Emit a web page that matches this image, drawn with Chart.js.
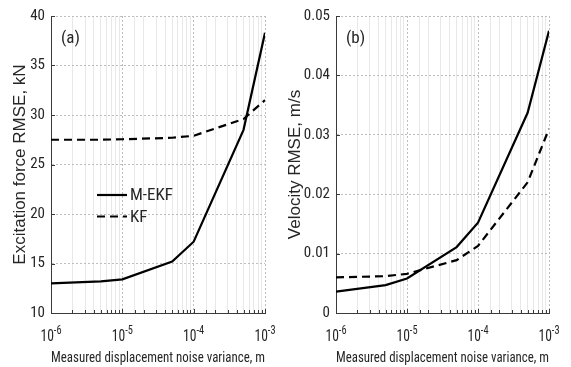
<!DOCTYPE html>
<html>
<head>
<meta charset="utf-8">
<script src="https://cdn.jsdelivr.net/npm/chart.js@4.4.0/dist/chart.umd.min.js"></script>
<style>
  html, body { margin: 0; padding: 0; background: #fff; }
  #wrap { position: relative; width: 571px; height: 367px; }
  canvas { position: absolute; top: 0; }
</style>
</head>
<body>
<div id="wrap">
  <canvas id="chartA" width="285" height="367" style="left:0"></canvas>
  <canvas id="chartB" width="286" height="367" style="left:285px"></canvas>
</div>
<script>
// measured displacement noise variance (x), m
const noiseVariance = [1e-6, 5e-6, 1e-5, 5e-5, 1e-4, 5e-4, 1e-3];
// (a) excitation force RMSE, kN
const forceEKF = [13.0, 13.2, 13.4, 15.2, 17.2, 28.5, 38.3];
const forceKF  = [27.5, 27.5, 27.55, 27.7, 27.9, 29.6, 31.5];
// (b) velocity RMSE, m/s
const velEKF = [0.0036, 0.0047, 0.0058, 0.0111, 0.0152, 0.0337, 0.0475];
const velKF  = [0.0060, 0.0062, 0.0066, 0.0089, 0.0113, 0.0220, 0.0310];

const seriesNames = ['M-EKF', 'KF'];
const xTickExponents = [-6, -5, -4, -3];
const xTitle = 'Measured displacement noise variance, m';

const NARROW = '"Roboto Condensed", "Liberation Sans", Arial, sans-serif';
const REGULAR = '"Liberation Sans", Arial, sans-serif';
const TXT = '#262626';

const isDecade = v => {
  const e = Math.log10(v);
  return Math.abs(e - Math.round(e)) < 1e-6;
};

// 10^n tick labels with real superscripts + small inward tick marks (matlab style)
const axisDecor = {
  id: 'axisDecor',
  afterDraw(chart) {
    const {ctx, chartArea, scales} = chart;
    ctx.save();
    // inward ticks
    ctx.strokeStyle = '#3a3a3a';
    ctx.lineWidth = 1;
    ctx.beginPath();
    scales.x.ticks.forEach(t => {
      const px = Math.round(scales.x.getPixelForValue(t.value)) + 0.5;
      ctx.moveTo(px, chartArea.bottom);
      ctx.lineTo(px, chartArea.bottom - (isDecade(t.value) ? 4 : 3));
    });
    scales.y.ticks.forEach(t => {
      const py = Math.round(scales.y.getPixelForValue(t.value)) + 0.5;
      ctx.moveTo(chartArea.left, py);
      ctx.lineTo(chartArea.left + 4, py);
    });
    ctx.stroke();

    // squeezed horizontally a bit, like the source figure
    const sx = 0.8;
    ctx.fillStyle = TXT;
    ctx.textBaseline = 'alphabetic';
    ctx.textAlign = 'left';
    xTickExponents.forEach(e => {
      const px = scales.x.getPixelForValue(Math.pow(10, e));
      ctx.font = '17px ' + NARROW;
      const wb = ctx.measureText('10').width;
      ctx.font = '13px ' + NARROW;
      const sup = String(e);
      const ws = ctx.measureText(sup).width;
      const y = chartArea.bottom + 28;
      ctx.save();
      ctx.translate(px, y);
      ctx.scale(sx, 1);
      const x0 = -(wb + ws) / 2;
      ctx.font = '17px ' + NARROW;
      ctx.fillText('10', x0, 0);
      ctx.font = '13px ' + NARROW;
      ctx.fillText(sup, x0 + wb, -7);
      ctx.restore();
    });
    ctx.restore();
  }
};

const panelLabel = {
  id: 'panelLabel',
  afterDraw(chart, args, opts) {
    const {ctx, chartArea} = chart;
    ctx.save();
    ctx.fillStyle = TXT;
    ctx.font = '17px ' + NARROW;
    ctx.textAlign = 'left';
    ctx.textBaseline = 'middle';
    ctx.fillText(opts.text, chartArea.left + 10, chartArea.top + 23);
    ctx.restore();
  }
};

const innerLegend = {
  id: 'innerLegend',
  afterDraw(chart, args, opts) {
    if (!opts.show) return;
    const {ctx, chartArea} = chart;
    ctx.save();
    chart.data.datasets.forEach((ds, i) => {
      const y = chartArea.top + opts.top + i * 21.5;
      const x = chartArea.left + opts.left;
      ctx.strokeStyle = ds.borderColor;
      ctx.lineWidth = ds.borderWidth;
      ctx.setLineDash(ds.borderDash || []);
      ctx.beginPath();
      ctx.moveTo(x, y);
      ctx.lineTo(x + 30, y);
      ctx.stroke();
      ctx.setLineDash([]);
      ctx.fillStyle = TXT;
      ctx.font = '17px ' + NARROW;
      ctx.textBaseline = 'middle';
      ctx.fillText(ds.label, x + 33, y + 1);
    });
    ctx.restore();
  }
};

function makeChart(id, ekf, kf, yMin, yMax, yStep, yTitle, label, rightPad, titlePad, legend) {
  return new Chart(document.getElementById(id), {
    type: 'line',
    data: {
      datasets: [
        {
          label: seriesNames[0],
          data: noiseVariance.map((v, i) => ({x: v, y: ekf[i]})),
          borderColor: '#000', borderWidth: 2.2, pointRadius: 0, tension: 0
        },
        {
          label: seriesNames[1],
          data: noiseVariance.map((v, i) => ({x: v, y: kf[i]})),
          borderColor: '#000', borderWidth: 2.2, borderDash: [8, 5], pointRadius: 0, tension: 0
        }
      ]
    },
    options: {
      responsive: false,
      animation: false,
      layout: {padding: {top: 16, right: rightPad, left: 0, bottom: 0}},
      plugins: {
        legend: {display: false},
        tooltip: {enabled: false},
        panelLabel: {text: label},
        innerLegend: legend
      },
      scales: {
        x: {
          type: 'logarithmic',
          min: 1e-6, max: 1e-3,
          afterFit: s => { s.height = 54; },
          ticks: {callback: () => '', autoSkip: false, maxRotation: 0},
          title: {
            display: true, text: xTitle, color: TXT, padding: {top: 0, bottom: 0},
            font: {family: NARROW, size: 15}
          },
          grid: {
            drawTicks: false,
            color: c => (c.tick && isDecade(c.tick.value)) ? '#bdbdbd' : '#e8e8e8',
            lineWidth: 1
          },
          border: {
            color: '#3a3a3a', width: 1,
            dash: c => (c.tick && isDecade(c.tick.value)) ? [2, 2] : []
          }
        },
        y: {
          min: yMin, max: yMax,
          afterFit: s => { s.width = 51; },
          ticks: {
            stepSize: yStep, padding: 6, color: TXT,
            font: {family: NARROW, size: 15}
          },
          title: {
            display: true, text: yTitle, color: TXT, padding: {top: titlePad, bottom: 0},
            font: {family: REGULAR, size: 17}
          },
          grid: {drawTicks: false, color: '#bdbdbd', lineWidth: 1},
          border: {color: '#3a3a3a', width: 1, dash: [2, 2]}
        }
      }
    },
    plugins: [axisDecor, panelLabel, innerLegend]
  });
}

makeChart('chartA', forceEKF, forceKF, 10, 40, 5, 'Excitation force RMSE, kN', '(a)', 20, 10,
  {show: true, left: 46, top: 179});
makeChart('chartB', velEKF, velKF, 0, 0.05, 0.01, 'Velocity RMSE, m/s', '(b)', 22, 0,
  {show: false});
</script>
</body>
</html>
